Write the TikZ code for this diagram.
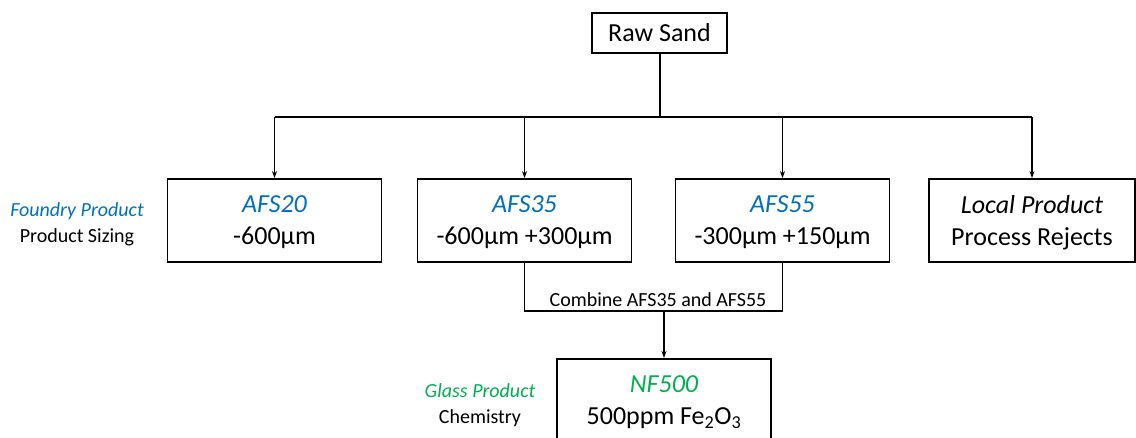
\documentclass[tikz,border=0pt]{standalone}
\usepackage{fontspec}
\setmainfont{Carlito}
\usetikzlibrary{arrows.meta}
\definecolor{fblue}{HTML}{0070C0}
\definecolor{fgreen}{HTML}{00B050}
\begin{document}
\begin{tikzpicture}[x=1pt,y=-1pt,
  box/.style={draw,line width=1.8pt,minimum width=#1,minimum height=83pt,inner sep=0pt,text depth=-2pt,align=center,font=\fontsize{26}{32}\selectfont},
  box/.default=214pt,
  conn/.style={line width=1.2pt},
  arr/.style={conn,-{Stealth[length=7pt,width=5pt]}},
  side/.style={align=center,font=\fontsize{20}{26}\selectfont}]
\useasboundingbox (0,0) rectangle (1136,438);
\node[draw,line width=1.8pt,minimum width=135pt,minimum height=40pt,inner sep=0pt,font=\fontsize{26}{30}\selectfont] (raw) at (659.5,33) {Raw Sand};
\node[box] (a20) at (274.5,220.5) {\textcolor{fblue}{\itshape AFS20}\\-600µm};
\node[box] (a35) at (524.5,220.5) {\textcolor{fblue}{\itshape AFS35}\\-600µm +300µm};
\node[box] (a55) at (782.5,220.5) {\textcolor{fblue}{\itshape AFS55}\\-300µm +150µm};
\node[box=206pt] (loc) at (1032,220.5) {{\itshape Local Product}\\Process Rejects};
\node[box,anchor=north] (nf) at (664,358) {\textcolor{fgreen}{\itshape NF500}\\500ppm Fe\textsubscript{2}O\textsubscript{3}};
\node[side] (fl) at (77,224) {\textcolor{fblue}{\itshape Foundry Product}\\Product Sizing};
\node[side] (gl) at (480,405) {\textcolor{fgreen}{\itshape Glass Product}\\Chemistry};
\coordinate (j) at (660,117);
\coordinate (m) at (664,311);
\draw[conn] (raw.south -| j) -- (j);
\draw[conn] (274.5,117) -- (1032,117);
\draw[arr] (274.5,117) -- (a20.north);
\draw[arr] (524.5,117) -- (a35.north);
\draw[arr] (782.5,117) -- (a55.north);
\draw[arr] (1032,117) -- (loc.north);
\draw[conn] (a35.south) |- (m) -| (a55.south);
\draw[arr] (m) -- (nf.north);
\node[font=\fontsize{20}{24}\selectfont,anchor=base] (cl) at (658,307) {Combine AFS35 and AFS55};
\end{tikzpicture}
\end{document}
